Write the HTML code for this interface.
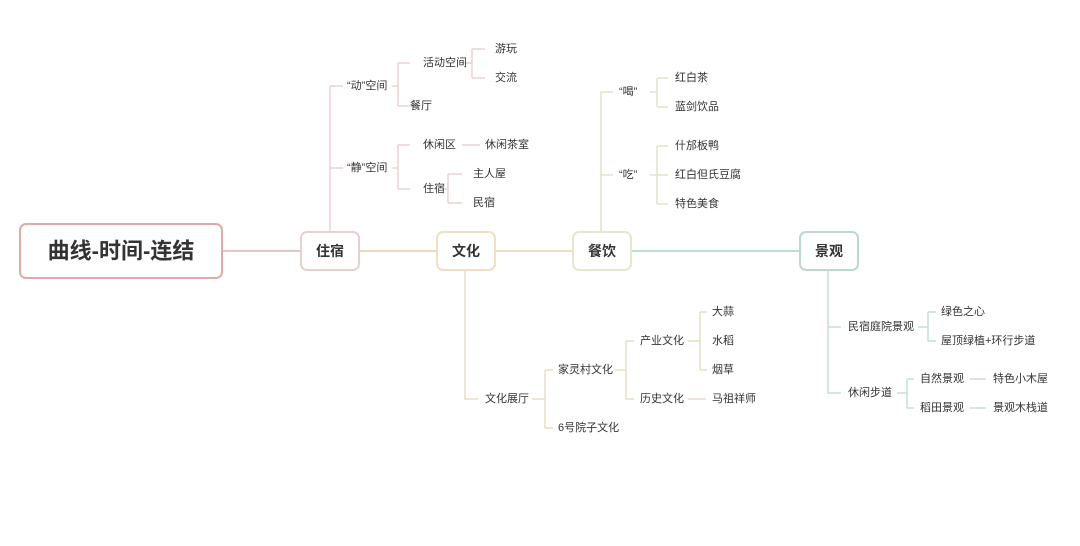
<!DOCTYPE html>
<html><head><meta charset="utf-8"><style>
html,body{margin:0;padding:0;background:#fff;width:1080px;height:546px;overflow:hidden}
text{font-family:"Liberation Sans","Noto Sans CJK SC",sans-serif;fill:#333;font-size:11px;dominant-baseline:central}
.b{font-size:14px;font-weight:bold;text-anchor:middle}
</style></head><body>
<svg width="1080" height="546" xmlns="http://www.w3.org/2000/svg">
<g fill="none" stroke-width="2">
<line x1="222" y1="251" x2="301" y2="251" stroke="#e6c6c6"/>
<line x1="359" y1="251" x2="437" y2="251" stroke="#eed6c0"/>
<line x1="495" y1="251" x2="573" y2="251" stroke="#ebe0c4"/>
<line x1="631" y1="251" x2="800" y2="251" stroke="#c0dcd6"/>
</g>
<g fill="none" stroke="#ecd4d4" stroke-width="1.5">
<path d="M330 232V86H343M330 168H343"/>
<path d="M392 86H398M398 63V106M398 63H410M398 106H410"/>
<path d="M462 63H472M472 49V78M472 49H485M472 78H485"/>
<path d="M392 168H398M398 145V189M398 145H410M398 189H410"/>
<path d="M462 145H480"/>
<path d="M442 189H448M448 174V203M448 174H462M448 203H462"/>
</g>
<g fill="none" stroke="#e6ddc4" stroke-width="1.5">
<path d="M465 270V399H478"/>
<path d="M532 399H545M545 370V428M545 370H553M545 428H553"/>
<path d="M615 370H626M626 341V399M626 341H634M626 399H634"/>
<path d="M688 341H700M700 312V370M700 312H707M700 370H707"/>
<path d="M688 399H706"/>
</g>
<g fill="none" stroke="#e0e4c8" stroke-width="1.5">
<path d="M601 232V92H613M601 175H613"/>
<path d="M650 92H657M657 78V107M657 78H668M657 107H668"/>
<path d="M650 175H668M657 146V204M657 146H668M657 204H668"/>
</g>
<g fill="none" stroke="#c4ddd8" stroke-width="1.5">
<path d="M828 270V393H841M828 327H841"/>
<path d="M918 327H928M928 312V341M928 312H936M928 341H936"/>
<path d="M897 393H907M907 379V408M907 379H914M907 408H914"/>
<path d="M970 379H986M970 408H986"/>
</g>
<rect x="20" y="224" width="202" height="54" rx="6" fill="#fff" stroke="#e0aaaa" stroke-width="2"/>
<text x="121" y="251" class="b" style="font-size:22px">曲线-时间-连结</text>
<rect x="301" y="232" width="58" height="38" rx="6" fill="#fff" stroke="#e8d0d0" stroke-width="2"/>
<text x="330" y="251" class="b">住宿</text>
<rect x="437" y="232" width="58" height="38" rx="6" fill="#fff" stroke="#efe0c4" stroke-width="2"/>
<text x="466" y="251" class="b">文化</text>
<rect x="573" y="232" width="58" height="38" rx="6" fill="#fff" stroke="#e6e8cc" stroke-width="2"/>
<text x="602" y="251" class="b">餐饮</text>
<rect x="800" y="232" width="58" height="38" rx="6" fill="#fff" stroke="#bcd8d2" stroke-width="2"/>
<text x="829" y="251" class="b">景观</text>
<text x="347" y="86">“动”空间</text>
<text x="347" y="168">“静”空间</text>
<text x="423" y="63">活动空间</text>
<text x="410" y="106">餐厅</text>
<text x="495" y="49">游玩</text>
<text x="495" y="78">交流</text>
<text x="423" y="145">休闲区</text>
<text x="485" y="145">休闲茶室</text>
<text x="423" y="189">住宿</text>
<text x="473" y="174">主人屋</text>
<text x="473" y="203">民宿</text>
<text x="619" y="92">“喝”</text>
<text x="619" y="175">“吃”</text>
<text x="675" y="78">红白茶</text>
<text x="675" y="107">蓝剑饮品</text>
<text x="675" y="146">什邡板鸭</text>
<text x="675" y="175">红白但氏豆腐</text>
<text x="675" y="204">特色美食</text>
<text x="485" y="399">文化展厅</text>
<text x="558" y="370">家灵村文化</text>
<text x="558" y="428">6号院子文化</text>
<text x="640" y="341">产业文化</text>
<text x="640" y="399">历史文化</text>
<text x="712" y="312">大蒜</text>
<text x="712" y="341">水稻</text>
<text x="712" y="370">烟草</text>
<text x="712" y="399">马祖祥师</text>
<text x="848" y="327">民宿庭院景观</text>
<text x="848" y="393">休闲步道</text>
<text x="941" y="312">绿色之心</text>
<text x="941" y="341">屋顶绿植+环行步道</text>
<text x="920" y="379">自然景观</text>
<text x="920" y="408">稻田景观</text>
<text x="993" y="379">特色小木屋</text>
<text x="993" y="408">景观木栈道</text>
</svg>
</body></html>
